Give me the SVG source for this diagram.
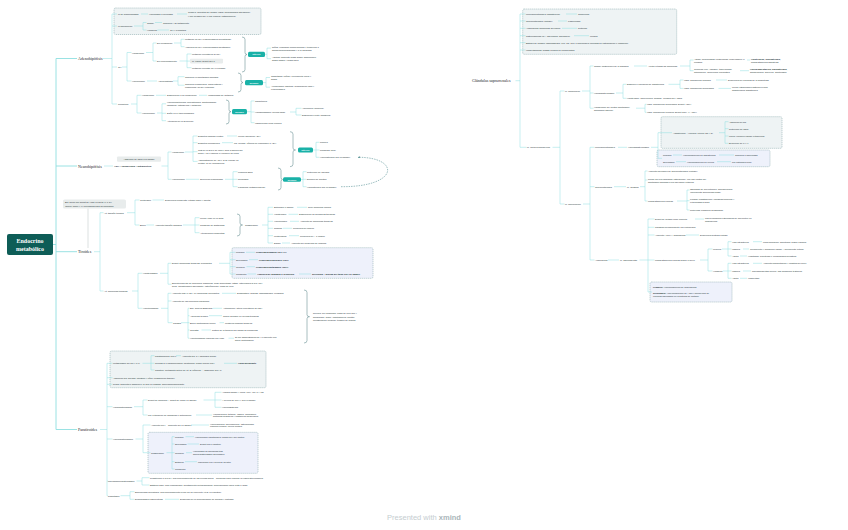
<svg xmlns="http://www.w3.org/2000/svg" width="848" height="530" viewBox="0 0 848 530">
<style>
text{font-family:"Liberation Sans",Arial,sans-serif;font-size:2.3px;fill:#223031;dominant-baseline:central}
.m{font-family:"Liberation Serif","Times New Roman",serif;font-size:4px;fill:#1a2526}
.r{font-family:"Liberation Serif","Times New Roman",serif;font-size:6px;fill:#fff;font-weight:bold;text-anchor:middle}
.b{font-weight:bold}
.w{fill:#fff;font-weight:bold;text-anchor:middle;font-size:2.1px}
.c{fill:none;stroke:#8fdfe0;stroke-width:0.5}
.c1{fill:none;stroke:#8fdfe0;stroke-width:0.9}
.br{fill:none;stroke:#5f8a8e;stroke-width:0.55}
.tb{fill:#19b1a7}
.gb{fill:#e8ecec}
.db{fill:#eef3f4;stroke:#7a9ea2;stroke-width:0.5;stroke-dasharray:1.2 0.8}
.dbb{fill:#eef1fb;stroke:#7a9ea2;stroke-width:0.5;stroke-dasharray:1.2 0.8}
.ft{font-size:7.5px;fill:#c5cdd0;text-anchor:middle}
</style>
<defs>
<marker id="ah" viewBox="0 0 6 6" refX="5" refY="3" markerWidth="4" markerHeight="4" orient="auto"><path d="M0 0 L6 3 L0 6z" fill="#3a7f82"/></marker>
</defs>
<rect width="848" height="530" fill="#fff"/>

<!-- containers -->
<g id="boxes">
<rect class="db" x="114" y="8" width="147" height="26.5" rx="1.5"/>
<rect class="dbb" x="232" y="247.7" width="141" height="30.6" rx="1.5"/>
<rect class="db" x="110" y="351" width="156" height="36.7" rx="1.5"/>
<rect class="dbb" x="148" y="432.3" width="110" height="41" rx="1.5"/>
<rect class="db" x="522.7" y="9" width="154" height="45.3" rx="1.5"/>
<rect class="db" x="661" y="116.7" width="121" height="31.6" rx="1.5"/>
<rect class="dbb" x="657" y="150" width="113" height="16.7" rx="1.5"/>
<rect class="dbb" x="650" y="282" width="82" height="20" rx="1.5"/>
</g>

<g id="connectors">
<path class="c1" d="M53 244.5 H56 M56 58.5 V429.5 M56 58.5 H77 M56 166 H77 M56 251.7 H77 M56 429.5 H77"/>
<path class="c" d="M103 58.5 H112 M112 14 V104 M112 14 H117 M112 26 H117 M112 67 H117 M112 104 H117
M141 14 H148 M177 14 H187
M134 26 H143 M143 22.5 V30 M143 22.5 H146.5 M143 30 H146.5 M155 22.5 H162 M157.5 30 H169
M122 67 H127 M127 52.5 V81 M127 52.5 H131.5 M127 81 H131.5
M146 52.5 H153 M153 43 V61 M153 43 H156.5 M153 61 H156.5
M174 43 H181 M181 39.3 V46.7 M181 39.3 H184.5 M181 46.7 H184.5
M179.5 61 H187 M187 54 V67.7 M187 54 H191.5 M187 61.1 H190 M187 67.7 H191.5
M265 54.3 H267 M267 48.1 V58.7 M267 48.1 H271 M267 58.7 H271
M147 81 H157 M173 81 H178 M178 76.7 V85.2 M178 76.7 H184.5 M178 85.2 H184.5
M263 82.6 H266 M266 77.5 V87.2 M266 77.5 H270 M266 87.2 H270
M131 104 H137 M137 95.3 V113 M137 95.3 H141.5 M137 113 H141.5
M156 95.3 H166 M199 95.3 H207
M157 113 H162 M162 103.8 V120.7 M162 103.8 H166 M162 113.3 H166 M162 120.7 H166
M247 111.7 H251 M251 101 V122.7 M251 101 H254.5 M251 112 H254.5 M251 122.7 H254.5
M290 112 H296 M296 108.3 V115 M296 108.3 H301.5 M296 115 H301.5"/>
<path class="c" d="M104 166 H113 M161.5 166 H168 M168 152 V179.3 M168 152 H171.5 M168 179.3 H171.5
M185 152 H193 M193 136 V161.4 M193 136 H197.5 M193 142.7 H197.5 M193 151.7 H197.5 M193 161.4 H197.5
M227 136 H237 M222 142.7 H233
M313 150 H316 M316 142.3 V157.3 M316 142.3 H319.5 M316 150 H319.5 M316 157.3 H319.5
M186 179.3 H199 M225 179.3 H233 M233 171.7 V186.7 M233 171.7 H237.5 M233 179.3 H237.5 M233 186.7 H237.5
M301 179.5 H303 M303 171.7 V186.7 M303 171.7 H306.5 M303 179.3 H306.5 M303 186.7 H306.5"/>
<path class="c" d="M94 251.7 H100 M100 212.7 V291 M100 212.7 H103.5 M100 291 H103.5
M127 212.7 H135 M135 200 V225 M135 200 H139.5 M135 225 H139.5
M152.5 200 H164 M146.5 225 H154 M183 225 H195 M195 217.7 V232.7 M195 217.7 H199.5 M195 225 H199.5 M195 232.7 H199.5
M262 225 H268 M268 207.3 V243 M268 207.3 H273 M268 214.3 H273 M268 221.3 H273 M268 228.3 H273 M268 235.7 H273 M268 243 H273
M297 207.3 H307 M288.5 214.3 H298 M290 221.3 H299 M283 228.3 H292 M289 235.7 H299 M282 243 H290
M132 291 H138 M138 273.3 V308.3 M138 273.3 H142.5 M138 308.3 H142.5
M160 273.3 H168 M168 263.3 V284.2 M168 263.3 H171.5 M168 284.2 H171.5
M219 263.3 H230 M230 252.3 V274 M230 252.3 H235.5 M230 259.7 H235.5 M230 266.7 H235.5 M230 274 H235.5
M246 252.3 H255 M249 259.7 H258 M246.5 266.7 H255 M247.5 274 H256 M299 274 H311
M161 308.3 H168 M168 293.3 V322.7 M168 293.3 H171.5 M168 301 H171.5 M168 322.7 H172.5
M222 293.3 H236 M181 322.7 H188 M188 308.3 V338.2 M188 308.3 H189.5 M188 315.7 H189.5 M188 322.7 H189.5 M188 330 H189.5 M188 338.2 H189.5
M213 308.3 H222 M209 315.7 H222 M219.5 322.7 H224 M201.5 330 H211 M228.5 338.2 H234"/>
<path class="c" d="M100 429.5 H107 M107 363.3 V495.7 M107 363.3 H112.5 M107 377.7 H112.5 M107 384.3 H112.5 M107 406.7 H112.5 M107 439 H112.5 M107 481 H107.8 M107 495.7 H107.8
M142.5 363.3 H151 M151 355.7 V370 M151 355.7 H154.5 M151 363.3 H154.5 M151 370 H154.5
M176 355.7 H181 M224 363.3 H237
M134 406.7 H143 M143 400 V415 M143 400 H147.5 M143 415 H147.5
M203.5 400 H215 M215 392.3 V407.3 M215 392.3 H221.5 M215 400 H221.5 M215 407.3 H221.5
M196 415 H212
M135.5 439 H143 M143 425 V452.7 M143 425 H150.5 M143 452.7 H150.5
M191 425 H209
M166.5 452.7 H172 M172 436.7 V469 M172 436.7 H174.5 M172 444 H174.5 M172 452.7 H174.5 M172 461.7 H174.5 M172 469 H174.5
M185.5 436.7 H194 M187.5 444 H199 M186 452.7 H192 M185 461.7 H197
M136.5 481 H142 M142 477.7 V485 M142 477.7 H149.5 M142 485 H149.5
M120.5 495.7 H130 M130 491.7 V499.3 M130 491.7 H134.5 M130 499.3 H134.5
M165 499.3 H179"/>
<path class="c" d="M515.5 80.7 H520 M520 14 V147.3 M520 14 H525.5 M520 21 H525.5 M520 28.3 H525.5 M520 35.7 H525.5 M520 42.7 H525.5 M520 50 H525.5 M520 147.3 H526.5
M566 14 H577 M558 21 H567 M562 28.3 H577 M574 35.7 H589
M552.5 147.3 H560 M560 91 V204 M560 91 H564.5 M560 204 H564.5
M582 91 H590 M590 66 V108.2 M590 66 H593.5 M590 93 H593.5 M590 108.2 H593.5
M634 66 H647 M680 66 H690 M690 60 V70.7 M690 60 H693.5 M690 70.7 H693.5
M747 60 H750 M740 70.7 H749
M616 93 H623 M623 84.3 V98.3 M623 84.3 H626.5 M623 98.3 H626.5
M668.5 84.3 H680 M680 80 V88.4 M680 80 H683.5 M680 88.4 H683.5
M716 80 H727 M718.5 88.4 H731
M636 108.2 H645 M645 104.3 V112.3 M645 104.3 H646.5 M645 112.3 H646.5
M583 204 H590 M590 147.3 V260 M590 147.3 H594.5 M590 186.7 H594.5 M590 260 H594.5
M618 147.3 H627 M651 147.3 H658 M658 132.7 V158.3 M658 132.7 H672 M658 158.3 H662
M719 132.7 H725 M725 121.7 V143.3 M725 121.7 H728.5 M725 128.7 H728.5 M725 136 H728.5 M725 143.3 H728.5
M673 155 H682 M719 155 H734 M676 161.7 H686 M717 161.7 H731
M614 186.7 H626 M640 186.7 H645 M645 171 V201 M645 171 H647.5 M645 180 H647.5 M645 201 H647.5
M677 201 H687 M687 190 V210 M687 190 H689.5 M687 200.7 H689.5 M687 210 H689.5
M608 260 H619 M639.5 260 H648 M648 219 V292 M648 219 H654.5 M648 227.3 H654.5 M648 235 H654.5 M648 260 H654.5 M648 292 H652
M695 219 H704 M686 235 H699
M700 260 H708 M708 249 V271 M708 249 H712.5 M708 271 H712.5
M722 249 H728 M728 241.7 V256 M728 241.7 H731.5 M728 249 H731.5 M728 256 H731.5
M723 271 H728 M728 263.3 V278.3 M728 263.3 H731.5 M728 271 H731.5 M728 278.3 H731.5
M753 241.7 H762 M743 249 H749 M740 256 H747 M753 263.3 H762 M743 271 H751 M740 278.3 H747"/>
<path class="br" d="M242 37 Q245 37 245 39.5 V52.5 Q245 54.5 247 54.5 Q245 54.5 245 56.5 V69.5 Q245 72 242 72
M238 73 Q241 73 241 75.5 V80.5 Q241 82.5 243 82.5 Q241 82.5 241 84.5 V89.5 Q241 92 238 92
M226 100 Q229 100 229 102.5 V109.7 Q229 111.7 231 111.7 Q229 111.7 229 113.7 V121.5 Q229 124 226 124
M290 131.7 Q293 131.7 293 134.2 V148 Q293 150 295.5 150 Q293 150 293 152 V164.2 Q293 166.7 290 166.7
M278 168 Q281 168 281 170.5 V177.5 Q281 179.5 282.5 179.5 Q281 179.5 281 181.5 V187.5 Q281 190 278 190
M237 214 Q240 214 240 216.5 V223 Q240 225 242.5 225 Q240 225 240 227 V233.5 Q240 236 237 236
M304 290 Q307 290 307 292.5 V314.7 Q307 316.7 309.5 316.7 Q307 316.7 307 318.7 V340.5 Q307 343 304 343"/>
<path d="M341 186.7 C400 187 400 157 358 157.3" fill="none" stroke="#3a7f82" stroke-width="0.5" stroke-dasharray="1.5 1" marker-end="url(#ah)"/>
<path d="M88 208.5 V248" fill="none" stroke="#d3d9d9" stroke-width="0.8"/>
</g>

<g id="root"><rect x="7" y="234" width="46" height="21" rx="2" fill="#0e5d57"/><text class="r" x="30" y="241">Endocrino</text><text class="r" x="30" y="248.5">metabólico</text></g>

<!-- Adenohipofisis -->
<g id="adeno"><text class="m" x="78" y="58.5">Adenohipófisis</text></g>
<g id="a1"><text x="118" y="14">M de macrohipófisis</text></g>
<g id="a1a"><text x="149" y="14">Hiperplasia o neoplasia</text></g>
<g id="a1b"><text x="188" y="12.2">Cefalea, defectos del campo visual (hemianopsia bitemporal)</text><text x="188" y="15.8">y por invasión del III par craneal (oftalmoplejía)</text></g>
<g id="a2"><text x="118" y="26">M hipofunción</text></g>
<g id="a2a"><text x="147" y="22.5">Global</text></g>
<g id="a2a1"><text x="163" y="22.5">Tumores y su tratamiento</text></g>
<g id="a2b"><text x="147" y="30">Hormonal</text></g>
<g id="a2b1"><text x="170" y="30">GH y Prolactina</text></g>
<g id="gh"><text x="118" y="67">GH</text></g>
<g id="gh1"><text x="132" y="52.5">Hipofunción</text></g>
<g id="gh1a"><text x="157" y="43">Del producción</text></g>
<g id="gh1a1"><text x="185" y="39.3">Mutación GHRH (enfermedades hereditarias)</text></g>
<g id="gh1a2"><text x="185" y="46.7">Ausencia GHRH (enfermedades hipotálamo)</text></g>
<g id="gh1b"><text x="157" y="61">Del funcionamiento</text></g>
<g id="gh1b1"><text x="192" y="54">Mutación receptores GHRH</text></g>
<g id="gh1b2"><rect class="gb" x="190" y="58.8" width="33" height="4.6" rx="0.8"/><text x="192" y="61.1">M. Laron: déficit IGF-1</text></g>
<g id="gh1b3"><text x="192" y="67.7">Mutación receptor GH en hígado</text></g>
<g id="gh1s"><rect class="tb" x="248" y="51.7" width="17" height="5.3" rx="1.5"/><text class="w" x="256.5" y="54.4">DÉFICIT</text></g>
<g id="gh1s1"><text x="272" y="46.7">Niños: enanismo proporcionado y tendencia a</text><text x="272" y="49.5">hipoglucemia/debilidad y a la obesidad</text></g>
<g id="gh1s2"><text x="272" y="57.3">Adultos: aumento masa grasa, disminución</text><text x="272" y="60.1">grasa magra y masa ósea</text></g>
<g id="gh2"><text x="132" y="81">Hiperfunción</text></g>
<g id="gh2a"><text x="158" y="81">Adenomatosis</text></g>
<g id="gh2a1"><text x="185" y="76.7">Tumores en hipotálamo-hipófisis</text></g>
<g id="gh2a2"><text x="185" y="83.8">Tumores pulmonares, pancreáticos y</text><text x="185" y="86.6">endocrinos (GHRH ectópica)</text></g>
<g id="gh2s"><rect class="tb" x="245" y="80" width="18" height="5.2" rx="1.5"/><text class="w" x="254" y="82.6">EXCESO</text></g>
<g id="gh2s1"><text x="271" y="76.1">Gigantismo (niños): crecimiento lineal y</text><text x="271" y="78.9">global</text></g>
<g id="gh2s2"><text x="271" y="85.8">Acromegalia (adultos): deformación cara y</text><text x="271" y="88.6">extremidades</text></g>
<g id="prl"><text x="118" y="104">Prolactina</text></g>
<g id="prl1"><text x="142" y="95.3">Hipofunción</text></g>
<g id="prl1a"><text x="167" y="95.3">Disminución o no producción</text></g>
<g id="prl1b"><text x="208" y="95.3">Incapacidad de lactancia</text></g>
<g id="prl2"><text x="142" y="113">Hiperfunción</text></g>
<g id="prl2a"><text x="167" y="102.4">Hiperprolactinemia (prolactinoma, hipotiroidismo,</text><text x="167" y="105.2">fármacos, estrógenos y lactancia)</text></g>
<g id="prl2b"><text x="167" y="113.3">Daño en el tallo hipofisario</text></g>
<g id="prl2c"><text x="167" y="120.7">Alteración de la secreción</text></g>
<g id="prl2s"><rect class="tb" x="232" y="109" width="15" height="5.3" rx="1.5"/><text class="w" x="239.5" y="111.7">EXCESO</text></g>
<g id="prl2s1"><text x="255" y="101">Galactorrea</text></g>
<g id="prl2s2"><text x="255" y="112">Hipogonadismo: menos libido</text></g>
<g id="prl2s2a"><text x="302" y="108.3">Amenorrea (mujeres)</text></g>
<g id="prl2s2b"><text x="302" y="115">Disfunción eréctil (hombres)</text></g>
<g id="prl2s3"><text x="255" y="122.7">Insuficiencia renal crónica</text></g>

<!-- Neurohipofisis -->
<g id="neuro"><text class="m" x="78" y="166">Neurohipófisis</text></g>
<g id="adh"><rect class="gb" x="117" y="156.5" width="44" height="5.3" rx="1"/><text x="139" y="159.2" text-anchor="middle">Absorción de agua a la sangre</text><text class="b" x="114" y="166">ADH = vasopresina = antidiurética</text></g>
<g id="n1"><text x="172" y="152">Hipofunción</text></g>
<g id="n1a"><text x="198" y="136">Diabetes insípida central</text></g>
<g id="n1a1"><text x="238" y="136">Menor liberación ADH</text></g>
<g id="n1b"><text x="198" y="142.7">Diabetes nefrogénica</text></g>
<g id="n1b1"><text x="234" y="142.7">Lib. normal, riñones no responden a ADH</text></g>
<g id="n1c"><text x="198" y="150.3">Test de la sed o de Miller: deja a alguien sin</text><text x="198" y="153.1">beber y se examina el volumen de orina</text></g>
<g id="n1d"><text x="198" y="160">Administración de ADH: si se corrige es</text><text x="198" y="162.8">central, si no: nefrogénica</text></g>
<g id="n1s"><rect class="tb" x="298" y="147.6" width="15" height="5" rx="1.5"/><text class="w" x="305.5" y="150.1">DÉFICIT</text></g>
<g id="n1s1"><text x="320" y="142.3">Poliuria</text></g>
<g id="n1s2"><text x="320" y="150">Polidipsia (sed)</text></g>
<g id="n1s3"><text x="320" y="157.3">Hipernatremia (Na en sangre)</text></g>
<g id="n2"><text x="172" y="179.3">Hiperfunción</text></g>
<g id="n2a"><text x="200" y="179.3">Secreción inapropiada</text></g>
<g id="n2a1"><text x="238" y="171.7">Lesiones SNC</text></g>
<g id="n2a2"><text x="238" y="179.3">Neoplasia</text></g>
<g id="n2a3"><text x="238" y="186.7">Fármacos (antidepresivos)</text></g>
<g id="n2s"><rect class="tb" x="283" y="177.2" width="18" height="4.6" rx="1.5"/><text class="w" x="292" y="179.5">EXCESO</text></g>
<g id="n2s1"><text x="307" y="171.7">Retención de líquidos</text></g>
<g id="n2s2"><text x="307" y="179.3">Dilución de solutos</text></g>
<g id="n2s3"><text x="307" y="186.7">Hiponatremia (Na en sangre)</text></g>

<!-- Tiroides -->
<g id="bio"><rect class="gb" x="63" y="199.5" width="63" height="9" rx="1.5"/><text x="65" y="202.4">Bio: bocio por déficit de yodo en dieta (I) o TH</text><text x="65" y="205.6">(bocio) como y (I) necesarios para su formación</text></g>
<g id="tir"><text class="m" x="78" y="251.7">Tiroides</text></g>
<g id="t1"><text x="104" y="212.7">Alt. tamaño tiroides</text></g>
<g id="t1a"><text x="140" y="200">Cretinismo</text></g>
<g id="t1a1"><text x="165" y="200">Deficiencia congénita: retraso físico y mental</text></g>
<g id="t1b"><text x="140" y="225">Bocio</text></g>
<g id="t1b1"><text x="155" y="225">Aumento tamaño glándula</text></g>
<g id="t1b1a"><text x="200" y="217.7">Menor yodo en la dieta</text></g>
<g id="t1b1b"><text x="200" y="225">Consumo de sustancias</text></g>
<g id="t1b1c"><text x="200" y="232.7">Alteraciones congénitas</text></g>
<g id="t1c"><text x="245" y="225">Clasificación</text></g>
<g id="t1c1"><text x="274" y="207.3">Eutiroideo o simple</text><text x="308" y="207.3">Nivel hormonal normal</text></g>
<g id="t1c2"><text x="274" y="214.3">Hipotiroideo</text><text x="299" y="214.3">Disminución de hormonas tiroideas</text></g>
<g id="t1c3"><text x="274" y="221.3">Hipertiroideo</text><text x="300" y="221.3">Aumento de hormonas tiroideas</text></g>
<g id="t1c4"><text x="274" y="228.3">Nodular</text><text x="293" y="228.3">Presencia de nódulo</text></g>
<g id="t1c5"><text x="274" y="235.7">Multinodular</text><text x="300" y="235.7">Presencia de + 1 nódulo</text></g>
<g id="t1c6"><text x="274" y="243">Difuso</text><text x="291" y="243">Aumento sin presencia de nódulos</text></g>
<g id="t2"><text x="104" y="291">Alt. hormonas tiroideas</text></g>
<g id="t2a"><text x="143" y="273.3">Hipotiroidismo</text></g>
<g id="t2a1"><text x="172" y="263.3">Déficit (hormonas tiroideas) circulantes</text></g>
<g id="t2a1a"><text x="236" y="252.3">Primario</text><text class="b" x="256" y="252.3">Problema glándula (T3 y T4)</text></g>
<g id="t2a1b"><text x="236" y="259.7">Secundario</text><text class="b" x="259" y="259.7">Problema hipofisario (TSH)</text></g>
<g id="t2a1c"><text x="236" y="266.7">Terciario</text><text class="b" x="256" y="266.7">Problema hipotalámico (TRH)</text></g>
<g id="t2a1d"><text x="236" y="274">Congénito</text><text class="b" x="257" y="274">Ausencia de glándula o la función</text><text class="b" x="312" y="274">screening + prueba del talón TSH en sangre</text></g>
<g id="t2a2"><text x="172" y="282.8">Enlentecimiento de funciones orgánicas, peso aumentado, fatiga, intolerancia al frío, piel</text><text x="172" y="285.6">seca, menstruación abundante, estreñimiento, caída de pelo</text></g>
<g id="t2b"><text x="143" y="308.3">Hipertiroidismo</text></g>
<g id="t2b1"><text x="172" y="293.3">Aumento TSH o T3 y T4 hormonas circulantes</text><text x="237" y="293.3">Diagnóstico: análisis, gammagrafía, ecografía</text></g>
<g id="t2b2"><text x="172" y="301">Aumento de las funciones orgánicas</text></g>
<g id="t2b3"><text x="173" y="322.7">Causas</text></g>
<g id="t2b3a"><text x="190" y="308.3">Enf. Graves-Basedow</text><text x="223" y="308.3">Autoinmune: altera receptores de TSH</text></g>
<g id="t2b3b"><text x="190" y="315.7">Adenoma tiroideo</text><text x="223" y="315.7">Tumor benigno en células tiroideas</text></g>
<g id="t2b3c"><text x="190" y="322.7">Bocio multinodular tóxico</text><text x="225" y="322.7">Múltiples nódulos tiroideos</text></g>
<g id="t2b3d"><text x="190" y="330">Tiroiditis</text><text x="212" y="330">Rotura de la tiroides con salida de hormonas</text></g>
<g id="t2b3e"><text x="190" y="338.2">Hipertiroidismo inducido por yodo</text><text x="235" y="336.8">Si por administración de I o paciente con</text><text x="235" y="339.6">bocio multinodular</text></g>
<g id="t2bs"><text x="313" y="313.3">Nervios, piel sudorosa, caída de pelo fino y</text><text x="313" y="316.7">quebradizo, fiebre, palpitaciones, apetito,</text><text x="313" y="320">menstruación irregular, temblor de manos</text></g>

<!-- Paratiroides -->
<g id="para"><text class="m" x="78" y="429.5">Paratiroides</text></g>
<g id="p1"><text x="113" y="363.3">Metabolismo del Ca y el P</text></g>
<g id="p1a"><text x="155" y="355.7">Parathormona (PTH)</text><text x="182" y="355.7">Aumenta Ca, P y fisiología hueso</text></g>
<g id="p1b"><text x="155" y="363.3">Células C o parafoliculares: calcitonina, inhibe acción PTH</text><text class="b" x="238" y="363.3">Hipocalcemiante</text></g>
<g id="p1c"><text x="155" y="370">Calcitriol, metabolito activo de vit. D (riñones), ↑ absorción Ca y P</text></g>
<g id="p2"><text x="113" y="377.7">Absorción Ca: huesos, intestino y riñón (reabsorción tubular)</text></g>
<g id="p3"><text x="113" y="384.3">Regla: aumenta o disminuye la [Ca] en plasma: hiper/hipocalcemiante</text></g>
<g id="p4"><text x="113" y="406.7">Hipoparatiroidismo</text></g>
<g id="p4a"><text x="148" y="400">Déficit de hormona + déficit de calcio en sangre</text></g>
<g id="p4a1"><text x="222" y="392.3">Análisis sangre y orina: PTH, Ca, P y Mg</text></g>
<g id="p4a2"><text x="222" y="400">↓ niveles de PTH y Ca en sangre</text></g>
<g id="p4a3"><text x="222" y="407.3">Hiperfosfatemia</text></g>
<g id="p4b"><text x="148" y="415">Por extirpación de glándulas o autoinmune</text><text x="213" y="413.6">Hipocalcemia (tetania), disnea, hormigueo,</text><text x="213" y="416.4">síntomas cognitivos y trastornos musculares</text></g>
<g id="p5"><text x="113" y="439">Hiperparatiroidismo</text></g>
<g id="p5a"><text x="151" y="425">Aumento PTH = aumento Ca en sangre</text><text x="210" y="423.6">Hipercalcemia, hipercalciuria, osteoporosis,</text><text x="210" y="426.4">cálculos renales, úlcera péptica</text></g>
<g id="p5b"><text x="151" y="452.7">Clasificación</text></g>
<g id="p5b1"><text x="175" y="436.7">Primario</text><text x="195" y="436.7">Hiperfunción paratiroides: causa PTH sin control</text></g>
<g id="p5b2"><text x="175" y="444">Secundario</text><text x="200" y="444">Déficit Ca o calcitriol</text></g>
<g id="p5b3"><text x="175" y="452.7">Terciario</text><text x="193" y="451.3">Hiperplasia de glándulas tras</text><text x="193" y="454.1">hiperparatiroidismo secundario</text></g>
<g id="p5b4"><text x="175" y="461.7">Ectópico</text><text x="198" y="461.7">Liberación PTH fuera de su sitio</text></g>
<g id="p5b5"><text x="175" y="469">Congénito</text></g>
<g id="p6"><text x="108" y="481">Pseudohipoparatiroidismo</text></g>
<g id="p6a"><text x="150" y="477.7">Resistencia a la PTH, mal funcionamiento de las células diana = problema para eliminar la respuesta hormonal</text></g>
<g id="p6b"><text x="150" y="485">Estatura baja, cara redondeada, acortamiento metacarpianos, mineralización ósea lenta o larga</text></g>
<g id="p7"><text x="108" y="495.7">Raquitismo</text></g>
<g id="p7a"><text x="135" y="491.7">Enfermedad hereditaria, mal funcionamiento renal (no se convierte Vit D en calcitriol)</text></g>
<g id="p7b"><text x="135" y="499.3">Deformidades esqueléticas</text><text x="180" y="499.3">Descenso de la mineralización de huesos y cartílago</text></g>

<!-- Glandulas suprarrenales -->
<g id="supra"><text class="m" x="472" y="80.7">Glándulas suprarrenales</text></g>
<g id="s1"><text x="526" y="14">Mineralocorticoides (aldosterona)</text><text x="578" y="14">Glomerular</text></g>
<g id="s2"><text x="526" y="21">Glucocorticoides (cortisol)</text><text x="568" y="21">Fasciculada</text></g>
<g id="s3"><text x="526" y="28.3">Andrógenos (hormonas sexuales)</text><text x="578" y="28.3">Reticular</text></g>
<g id="s4"><text x="526" y="35.7">Catecolaminas (NA, adrenalina, dopamina)</text><text x="590" y="35.7">Médula</text></g>
<g id="s5"><text x="526" y="42.7">Estudio de imagen (gammagrafía, eco, TC, RM) o funcionales (pruebas de estimulación e inhibición)</text></g>
<g id="s6"><text x="526" y="50">Incidentalomas: masas renales no funcionantes</text></g>
<g id="sc"><text x="527" y="147.3">M. corteza suprarrenal</text></g>
<g id="sh"><text x="565" y="91">M. hipofunción</text></g>
<g id="sh1"><text x="594" y="66">Global: destrucción de la glándula</text><text x="648" y="66">Afecta a todas las hormonas</text></g>
<g id="sh1a"><text x="694" y="58.6">Agudo: hemorragias (Waterhouse-Friderichsen) o</text><text x="694" y="61.6">cirugías</text><text x="751" y="58.6"><tspan class="b">Hipotensión, hiponatremia,</tspan></text><text x="751" y="61.6">manifestaciones digestivas</text></g>
<g id="sh1b"><text x="694" y="69.3">Crónicas (enf. Addison): tuberculosis,</text><text x="694" y="72.3">autoinmune, deficiencia enzimática</text><text x="750" y="69.3"><tspan class="b">Hiperpigmentación, hiponatremia,</tspan></text><text x="750" y="72.3">hipoglucemia, anorexia, hipotensión</text></g>
<g id="sh2"><text x="594" y="93">Hipoaldosteronismo</text></g>
<g id="sh2a"><text x="627" y="84.3">Disminuye liberación de aldosterona</text></g>
<g id="sh2a1"><text x="684" y="80">Insuf. suprarrenal primaria</text><text x="728" y="80">Deficiencia de enzimas de la biosíntesis</text></g>
<g id="sh2a2"><text x="684" y="88.4">Insuf. suprarrenal secundaria</text><text x="732" y="87">Menor estimulación sistema renina-</text><text x="732" y="90">angiotensina aldosterona</text></g>
<g id="sh2b"><text x="627" y="98.3">Hipotensión, hipovolemia, deshidr., pérdida Na y agua</text></g>
<g id="sh3"><text x="594" y="106.7">Hipofunción del control hipotálamo-</text><text x="594" y="109.7">hipofisario-adrenal</text></g>
<g id="sh3a"><text x="647" y="104.3">Insuf. suprarrenal secundaria: Déficit ACTH</text></g>
<g id="sh3b"><text x="647" y="112.3">Insuf. suprarrenal terciaria: Déficit CRH → ACTH</text></g>
<g id="sp"><text x="565" y="204">M. hiperfunción</text></g>
<g id="sp1"><text x="595" y="147.3">Mineralocorticoides</text><text x="628" y="147.3">Hiperaldosteronismo</text></g>
<g id="sp1a"><text x="673" y="132.7">Aldosterona: ↑ volemia, retiene Na y Cl</text><text x="729" y="121.7">Absorción de Na</text><text x="729" y="128.7">Retención de agua</text><text x="729" y="136">Mayor volumen líquido extracelular</text><text x="729" y="143.3">Excreción de K y H</text></g>
<g id="sp1b"><text x="663" y="155">Primario</text><text x="683" y="155">Hiperproducción de aldosterona</text><text x="735" y="155">Tumores o hiperplasia</text><text x="663" y="161.7">Secundario</text><text x="687" y="161.7">Hiperproducción de renina</text><text x="732" y="161.7">Por patología renal</text></g>
<g id="sp2"><text x="595" y="186.7">Glucocorticoides</text><text x="627" y="186.7">M. Cushing</text></g>
<g id="sp2a"><text x="648" y="171">Aumento liberación de glucocorticoides (cortisol)</text></g>
<g id="sp2b"><text x="648" y="178.5">Puede ser por fármacos (iatrogénico), por mal control del</text><text x="648" y="181.5">hipotálamo-hipófisis o por liberación ectópica</text></g>
<g id="sp2c"><text x="648" y="201">Manifestaciones clínicas</text></g>
<g id="sp2c1"><text x="690" y="188.5">Obesidad de cuello/tronco, hiperglucemia</text><text x="690" y="191.5">(incremento gluconeogénesis)</text></g>
<g id="sp2c2"><text x="690" y="199.2">Lípidos: redistribución, obesidad troncular y</text><text x="690" y="202.2">extremidades finas</text></g>
<g id="sp2c3"><text x="690" y="210">Proteínas: inhibición anabolismo</text></g>
<g id="sp3"><text x="595" y="260">Andrógenos</text><text x="620" y="260">M. adrenogenital</text></g>
<g id="sp3a"><text x="655" y="219">Déficit de cortisol poco eficiente</text><text x="705" y="217.5">Los precursores esteroideos se convierten en</text><text x="705" y="220.5">andrógenos</text></g>
<g id="sp3b"><text x="655" y="227.3">Causado principalmente por corticoides</text></g>
<g id="sp3c"><text x="655" y="235">Aumento ACTH y andrógenos</text><text x="700" y="235">Deficiencia síntesis cortisol</text></g>
<g id="sp3d"><text x="655" y="260">Manifestaciones clínicas según el sexo</text></g>
<g id="sp3d1"><text x="713" y="249">Mujeres</text><text x="732" y="241.7">Vida intrauterina</text><text x="763" y="241.7">Mala formación, hipertrofia, fusión canales</text><text x="732" y="249">Infancia</text><text x="750" y="249">Crecimiento y desarrollo rápido + crecimiento clítoris</text><text x="732" y="256">Adulta</text><text x="748" y="256">Hirsutismo, hipertrofia e irregularidad menstrual</text></g>
<g id="sp3d2"><text x="713" y="271">Hombres</text><text x="732" y="263.3">Vida intrauterina</text><text x="763" y="263.3">Aumento pigmentación y longitud del pene</text><text x="732" y="271">Infancia</text><text x="752" y="271">Pseudopubertad precoz, mal desarrollo testicular</text><text x="732" y="278.3">Adulto</text><text x="748" y="278.3">Inadvertido</text></g>
<g id="sp3e"><text x="653" y="286.7"><tspan class="b">Primario:</tspan> Hiperproducción de andrógenos</text><text x="653" y="292.8"><tspan class="b">Secundario:</tspan> Hiperproducción de ACTH (deficiencia de</text><text x="653" y="296">enzimas implicadas en la síntesis de cortisol)</text></g>

<g id="footer"><text class="ft" x="424" y="517.3">Presented with <tspan font-weight="bold" fill="#aab6ba">xmind</tspan></text></g>
</svg>
